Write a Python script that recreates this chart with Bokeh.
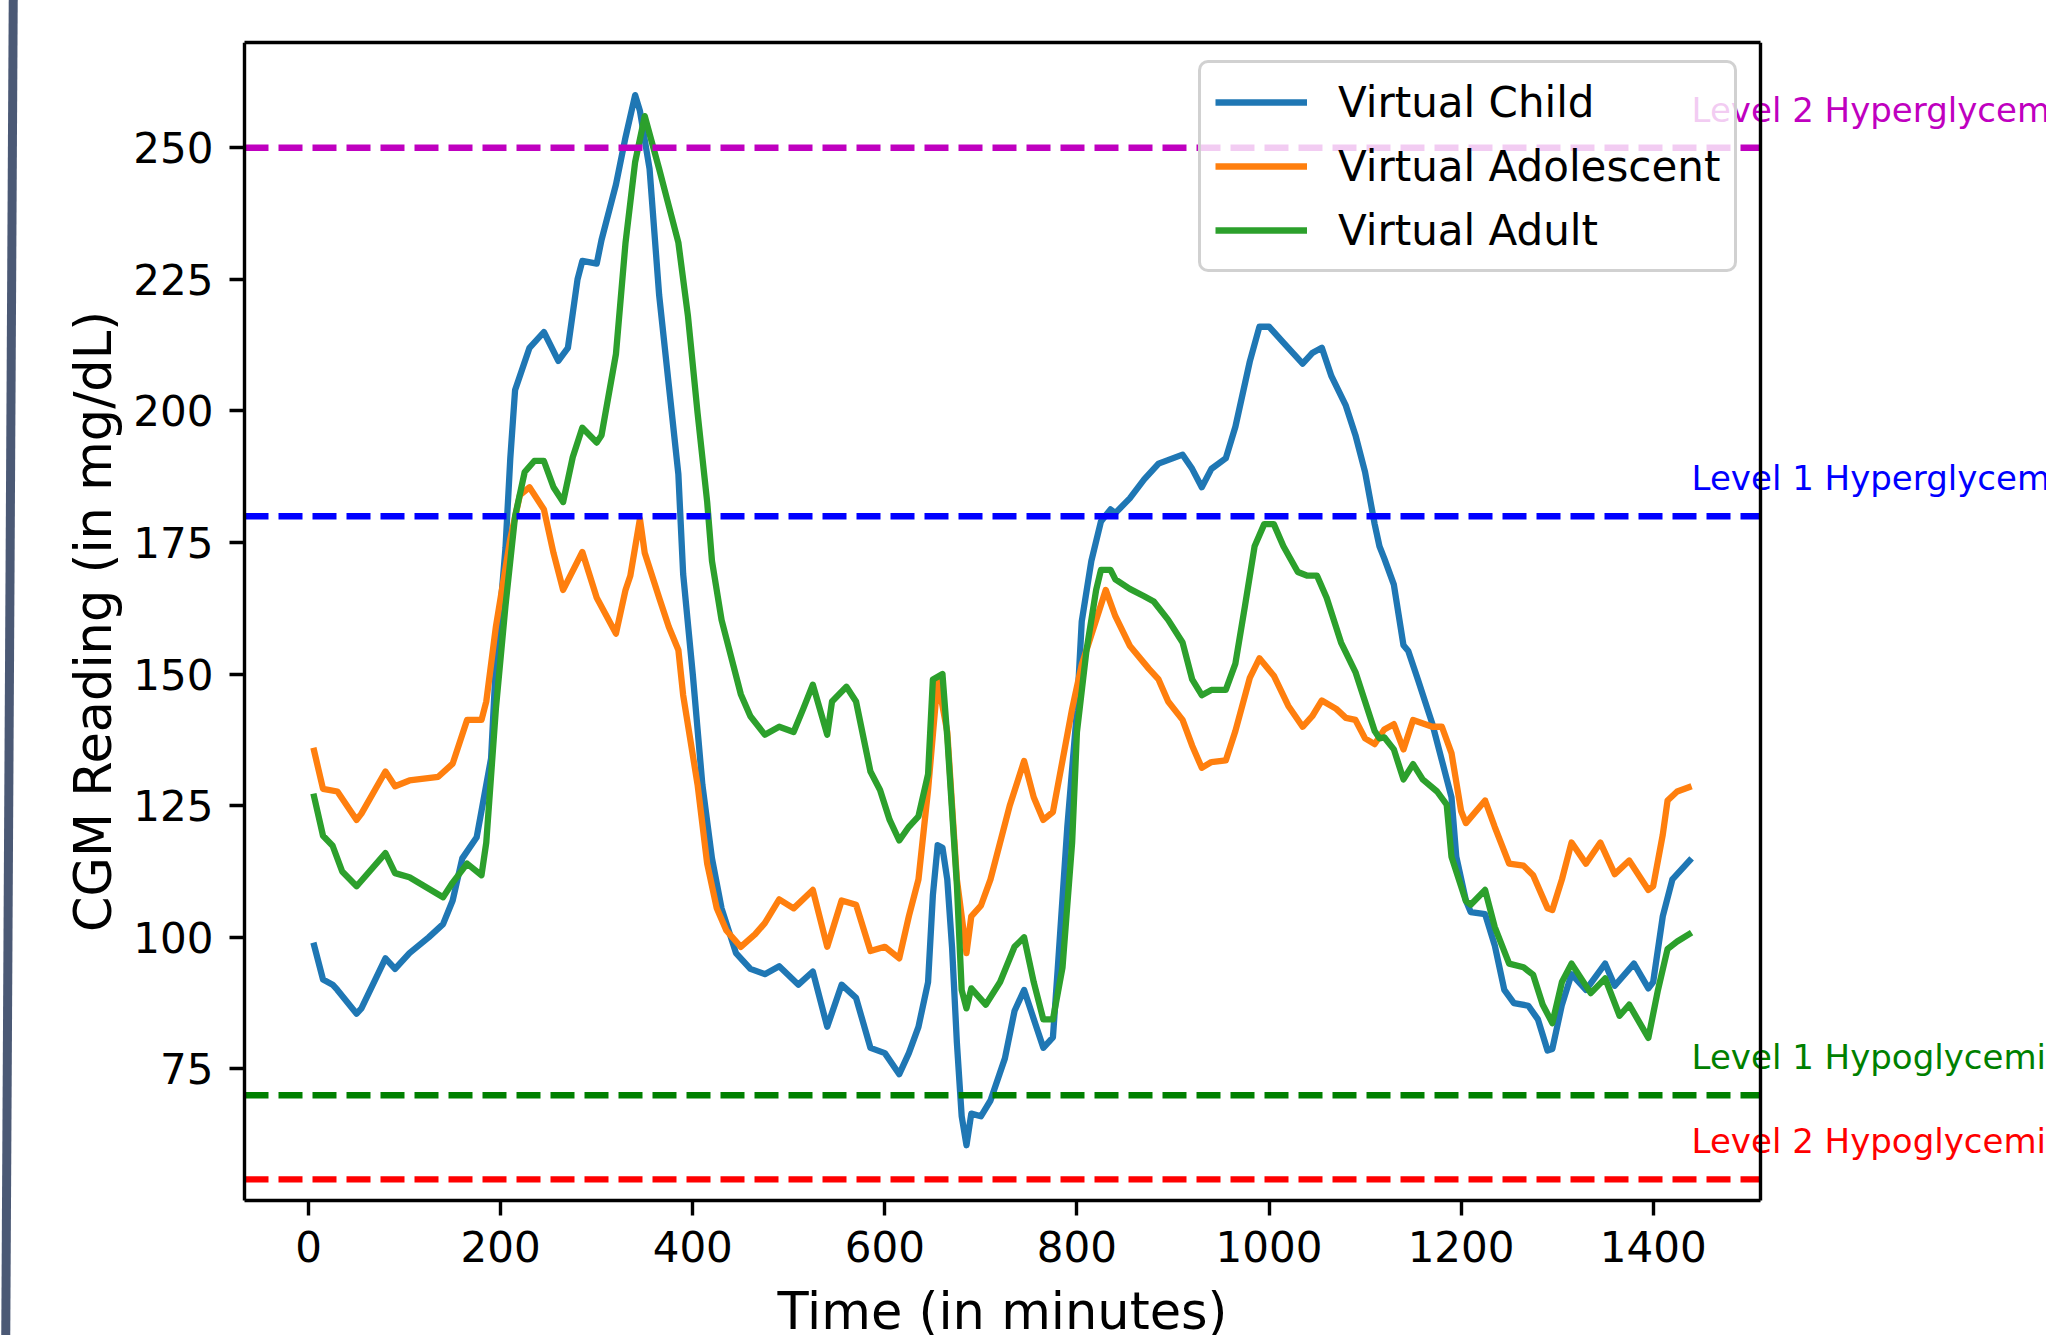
import math
from bokeh.plotting import figure
from bokeh.models import (Range1d, FixedTicker, Label, Legend, LegendItem, Div,
                          LinearAxis)
from bokeh.layouts import row
from bokeh.embed import file_html
from bokeh.resources import INLINE

# ---------------- data (time in minutes, CGM in mg/dL) ----------------
child_pts = [
    (5, 99), (15, 92), (25, 91), (30, 90), (50, 85.5), (55, 86.5), (80, 96), (90, 94),
    (105, 97), (125, 100), (140, 102.5), (150, 107), (160, 115), (175, 119), (180, 124),
    (190, 134), (195, 152), (205, 174), (210, 191), (215, 204), (230, 212), (245, 215),
    (260, 209.5), (270, 212), (280, 225), (285, 228.5), (300, 228), (305, 232.5),
    (320, 243), (330, 252), (340, 260), (345, 257), (355, 246), (365, 222), (375, 205),
    (385, 188), (390, 169), (400, 150), (410, 129), (420, 115), (430, 105.5), (445, 97),
    (460, 94), (475, 93), (490, 94.5), (510, 91), (525, 93.5), (540, 83), (555, 91),
    (570, 88.5), (585, 79), (600, 78), (615, 74), (625, 78), (635, 83), (645, 91.5),
    (650, 108), (655, 117.5), (660, 117), (665, 111), (670, 98), (675, 80), (680, 66),
    (685, 60.5), (690, 66.5), (700, 66), (710, 69), (725, 77), (735, 86), (745, 90),
    (755, 84.5), (765, 79), (775, 81), (780, 94), (790, 121), (800, 143), (805, 160),
    (815, 171.5), (825, 179), (835, 181.3), (840, 180.6), (855, 183.4), (870, 187),
    (885, 190), (910, 191.7), (920, 189), (930, 185.5), (940, 189), (955, 191), (965, 197),
    (980, 209.4), (990, 216), (1000, 216), (1015, 213), (1035, 209), (1045, 211),
    (1055, 212), (1065, 206.6), (1080, 201), (1090, 195.4), (1100, 188.4), (1110, 178.5),
    (1115, 174.3), (1120, 172), (1130, 167), (1140, 155.5), (1145, 154.4), (1155, 149),
    (1170, 140.6), (1180, 133.6), (1190, 126.6), (1195, 115.3), (1205, 107), (1210, 104.8),
    (1225, 104.4), (1235, 98.5), (1245, 90), (1255, 87.5), (1270, 87), (1280, 84.4),
    (1290, 78.5), (1295, 78.8), (1305, 87.2), (1315, 93), (1330, 90), (1350, 95),
    (1360, 90.8), (1380, 95), (1395, 90.3), (1400, 91.5), (1410, 104), (1420, 111),
    (1430, 113), (1440, 115),
]
adolescent_pts = [
    (5, 136), (15, 128.2), (30, 127.7), (50, 122.3), (55, 123.5), (80, 131.5), (90, 128.7),
    (105, 129.8), (135, 130.5), (150, 133), (165, 141.3), (180, 141.3), (185, 144.8),
    (195, 159), (210, 175.7), (220, 184), (230, 185.5), (245, 181.3), (255, 173),
    (265, 166), (285, 173.2), (300, 164.5), (320, 157.7), (330, 166), (335, 168.7),
    (345, 179.5), (350, 173), (365, 164.5), (375, 159), (385, 154.6), (390, 146),
    (405, 129), (415, 114), (425, 105.5), (435, 101.3), (450, 98.2), (465, 100.6),
    (475, 102.7), (490, 107.2), (505, 105.5), (525, 109), (540, 98.2), (555, 107),
    (570, 106.2), (585, 97.4), (600, 98.2), (615, 96), (625, 104), (635, 111), (645, 128),
    (655, 149), (665, 139), (675, 111), (685, 97), (690, 104), (700, 106), (710, 111),
    (730, 125), (745, 133.5), (755, 126.6), (765, 122.3), (775, 123.8), (795, 143.4),
    (805, 151.8), (820, 160.3), (830, 166), (840, 161), (855, 155.4), (875, 151),
    (885, 149), (895, 144.8), (910, 141.3), (920, 136.4), (930, 132.2), (940, 133.3),
    (955, 133.6), (965, 139.2), (980, 149.3), (990, 153), (1005, 149.7), (1020, 144),
    (1035, 140), (1045, 142), (1055, 145), (1070, 143.4), (1080, 141.7), (1090, 141.3),
    (1100, 137.8), (1110, 136.7), (1120, 139.5), (1130, 140.5), (1140, 135.7),
    (1150, 141.3), (1170, 140), (1180, 140), (1190, 135), (1200, 124), (1205, 121.7),
    (1225, 126), (1235, 121), (1250, 114), (1265, 113.6), (1275, 111.8), (1290, 105.5),
    (1295, 105.2), (1305, 111), (1315, 118), (1330, 114), (1345, 118), (1360, 112),
    (1375, 114.6), (1395, 109), (1400, 109.7), (1410, 119.5), (1415, 126), (1425, 127.7),
    (1440, 128.7),
]
adult_pts = [
    (5, 127.3), (15, 119.3), (25, 117.4), (35, 112.5), (50, 109.7), (80, 116), (90, 112.2),
    (105, 111.4), (140, 107.6), (150, 110.4), (165, 114), (180, 111.8), (185, 118),
    (195, 143.4), (205, 163), (215, 180), (225, 188.4), (235, 190.5), (245, 190.5),
    (255, 185.5), (265, 182.7), (275, 191.2), (285, 196.8), (300, 194), (305, 195.4),
    (320, 210.8), (330, 232), (340, 247.3), (350, 256), (365, 246), (375, 239), (385, 232),
    (395, 218), (405, 199.6), (415, 182.7), (420, 171.5), (430, 160.3), (450, 146.2),
    (460, 142), (475, 138.5), (490, 140), (505, 139), (515, 143.4), (525, 148),
    (540, 138.5), (545, 144.8), (560, 147.6), (570, 144.8), (585, 131.5), (595, 128),
    (605, 122.3), (615, 118.4), (625, 121), (635, 123), (645, 131), (650, 149), (660, 150),
    (665, 138), (675, 110), (680, 90), (685, 86.5), (690, 90.3), (705, 87.2), (720, 91.5),
    (735, 98.2), (745, 100), (755, 91.5), (765, 84.4), (775, 84.4), (785, 94.3),
    (795, 118), (800, 139), (810, 154.6), (820, 166), (825, 169.8), (835, 169.8),
    (840, 168), (855, 166.2), (870, 164.8), (880, 163.8), (895, 160.3), (910, 156),
    (920, 149), (930, 146), (940, 147), (955, 147), (965, 152), (975, 163), (985, 174.3),
    (995, 178.5), (1005, 178.5), (1015, 174.3), (1030, 169.4), (1040, 168.7),
    (1050, 168.7), (1060, 164.5), (1075, 156), (1090, 150.4), (1100, 144.8),
    (1110, 139.2), (1115, 137.8), (1120, 138), (1130, 135.7), (1140, 130), (1150, 132.9),
    (1160, 130), (1175, 127.7), (1185, 125.2), (1190, 115.3), (1205, 106.9),
    (1210, 106.2), (1225, 109), (1235, 102), (1250, 95), (1265, 94.3), (1275, 92.9),
    (1285, 87.2), (1295, 83.7), (1305, 91.5), (1315, 95), (1335, 89.4), (1350, 92.2),
    (1365, 85.1), (1375, 87.2), (1395, 80.9), (1405, 90), (1415, 97.8), (1425, 99.2),
    (1440, 100.9),
]

series_names = ["Virtual Child", "Virtual Adolescent", "Virtual Adult"]
series_colors = ["#1f77b4", "#ff7f0e", "#2ca02c"]

threshold_values = [250, 180, 70, 54]
threshold_names = ["Level 2 Hyperglycemia", "Level 1 Hyperglycemia",
                   "Level 1 Hypoglycemia", "Level 2 Hypoglycemia"]
threshold_colors = ["#bf00bf", "#0000ff", "#008000", "#ff0000"]

x_ticks = [0, 200, 400, 600, 800, 1000, 1200, 1400]
y_ticks = [75, 100, 125, 150, 175, 200, 225, 250]

x_title = "Time (in minutes)"
y_title = "CGM Reading (in mg/dL)"

FONT = "DejaVu Sans"

# axes limits (as matplotlib auto-scaled them)
x_lo, x_hi = -66.75, 1511.75
y_lo, y_hi = 50, 270

# ---------------- pixel layout of the figure ----------------
# The plot frame covers the whole figure below the top margin, so that the
# texts around the axes box (titles, overflowing side texts) can be placed
# freely; the axes box itself is drawn with bounded, fixed-location axes.
FIG_W, FIG_H = 2026, 1335
BOX_L, BOX_R, BOX_T, BOX_B = 224, 1740, 42, 1200
px_x = (BOX_R - BOX_L) / (x_hi - x_lo)
px_y = (BOX_B - BOX_T) / (y_hi - y_lo)
x_range = Range1d(x_lo - BOX_L / px_x, x_hi + (FIG_W - BOX_R) / px_x)
y_range = Range1d(y_lo - (FIG_H - BOX_B) / px_y, y_hi)

# text anchors are put at the middle of the text box; for DejaVu Sans the
# alphabetic baseline lies 0.346 em below that middle
MID_TO_BASE = 0.346

p = figure(width=FIG_W, height=FIG_H, output_backend="svg", toolbar_location=None,
           x_range=x_range, y_range=y_range,
           min_border_left=0, min_border_right=0, min_border_top=BOX_T,
           min_border_bottom=0)
p.grid.visible = False
p.background_fill_color = "white"
p.border_fill_color = "white"
p.outline_line_color = None

for ax in (p.xaxis[0], p.yaxis[0]):
    ax.major_label_text_font = FONT
    ax.major_label_text_font_size = "42px"
    ax.major_label_text_color = "black"
    ax.major_tick_in = 0
    ax.major_tick_out = 15
    ax.major_tick_line_width = 3.4
    ax.minor_tick_in = 0
    ax.minor_tick_out = 0
    ax.axis_line_width = 3.4

p.xaxis[0].ticker = FixedTicker(ticks=x_ticks)
p.xaxis[0].bounds = (x_lo, x_hi)
p.xaxis[0].fixed_location = y_lo
p.xaxis[0].major_label_standoff = 15

p.yaxis[0].ticker = FixedTicker(ticks=y_ticks)
p.yaxis[0].bounds = (y_lo, y_hi)
p.yaxis[0].fixed_location = x_lo
p.yaxis[0].major_label_standoff = 16

# top spine
top_axis = LinearAxis(ticker=FixedTicker(ticks=[]), bounds=(x_lo, x_hi),
                      major_tick_out=0, major_tick_in=0, minor_tick_out=0,
                      minor_tick_in=0, major_label_text_font_size="0px",
                      axis_line_width=3.4, axis_line_color="black")
p.add_layout(top_axis, "above")

# data lines
renderers = []
for pts, color in zip([child_pts, adolescent_pts, adult_pts], series_colors):
    xs = [t for t, v in pts]
    ys = [v for t, v in pts]
    r = p.line(xs, ys, line_color=color, line_width=6.3, line_join="round")
    renderers.append(r)

# threshold lines (dashed) across the axes box
n = len(threshold_values)
p.segment(x0=[x_lo] * n, y0=threshold_values, x1=[x_hi] * n, y1=threshold_values,
          line_color=threshold_colors, line_width=6.3, line_dash="24 10")

# threshold texts: baseline at the last time point, 5 mg/dL above each line
label_x = child_pts[-1][0]
lab_px = 34
for val, name, color in zip(threshold_values, threshold_names, threshold_colors):
    p.add_layout(Label(x=label_x, y=val + 5 + MID_TO_BASE * lab_px / px_y,
                       text=name, text_color=color, text_font=FONT,
                       text_font_size=f"{lab_px}px", text_align="left",
                       text_baseline="middle", level="underlay"))

# right spine
p.segment(x0=[x_hi], y0=[y_lo], x1=[x_hi], y1=[y_hi], line_color="black",
          line_width=3.4)

# axis titles
title_px = 51
x_title_base = 129          # baseline, px below the axes box
y_title_base = 133          # baseline, px left of the axes box
p.add_layout(Label(x=(x_lo + x_hi) / 2,
                   y=y_lo - (x_title_base - MID_TO_BASE * title_px) / px_y,
                   text=x_title, text_font=FONT, text_font_size=f"{title_px}px",
                   text_color="black", text_align="center", text_baseline="middle"))
p.add_layout(Label(x=x_lo - (y_title_base + MID_TO_BASE * title_px) / px_x,
                   y=(y_lo + y_hi) / 2, angle=math.pi / 2,
                   text=y_title, text_font=FONT, text_font_size=f"{title_px}px",
                   text_color="black", text_align="center", text_baseline="middle"))

# legend, placed (in px from the frame's bottom-left) in the upper right
legend = Legend(
    items=[LegendItem(label=nm, renderers=[r]) for nm, r in zip(series_names, renderers)],
    location=(BOX_L + 954, FIG_H - BOX_B + 928),
    padding=14, spacing=14,
    glyph_width=92, glyph_height=50, label_height=50, label_standoff=31,
    label_text_font=FONT, label_text_font_size="42px", label_text_color="black",
    border_line_color="#cccccc", border_line_width=3.4, border_line_alpha=0.9,
    border_radius=10, background_fill_color="white", background_fill_alpha=0.8,
)
p.add_layout(legend)

bar = Div(text='<div style="position:absolute;left:4.5px;top:-25px;width:9px;'
               'height:1385px;background:#4b5975;transform:rotate(0.32deg);"></div>',
          width=20, height=FIG_H, margin=0,
          styles={"position": "relative", "overflow": "hidden"})

layout = row(bar, p, spacing=0)
open("out.html", "w").write(file_html(layout, INLINE))
